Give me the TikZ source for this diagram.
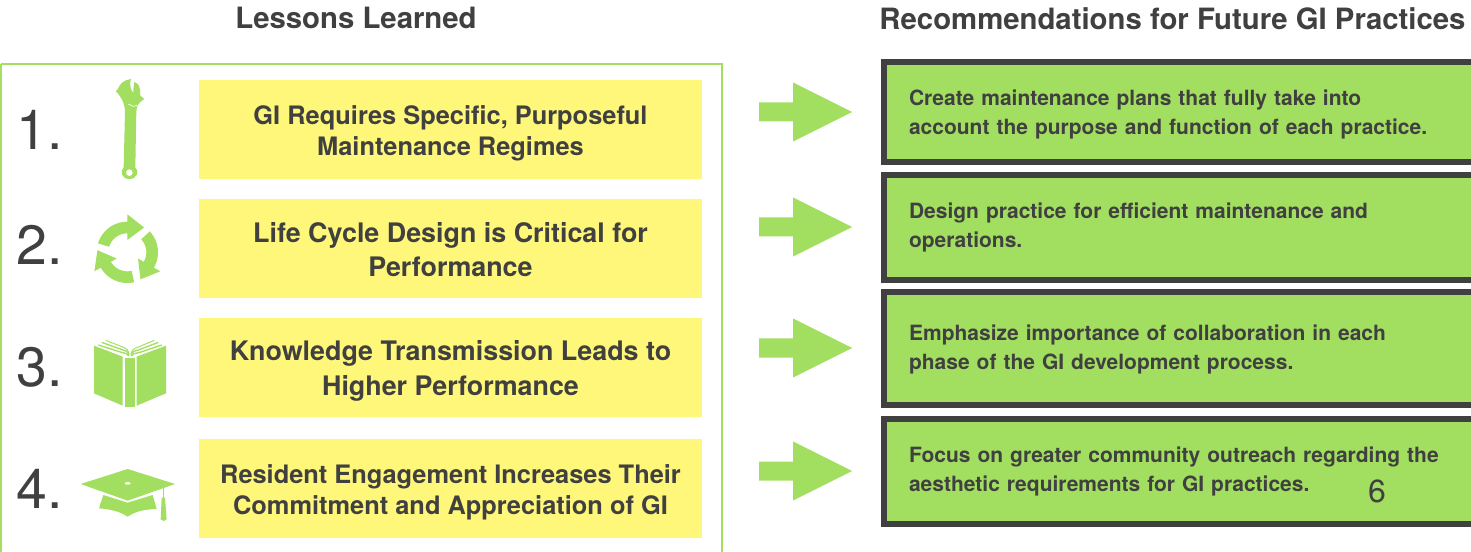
\documentclass[tikz,border=0pt]{standalone}
\usepackage{fontspec}
\setmainfont{TeX Gyre Heros}
\definecolor{lgreen}{HTML}{A2DE60}
\definecolor{lyellow}{HTML}{FFF77A}
\definecolor{dgray}{HTML}{404040}
\newcommand{\blockarrow}[2]{%
  \fill[lgreen] (#1,#2) ++(0,-9.5) -- ++(34,0) -- ++(0,-20) -- ++(59,29.5) -- ++(-59,29.5) -- ++(0,-20) -- ++(-34,0) -- cycle;}
\newcommand{\nudge}[1]{\rule{0pt}{#1}}
\tikzset{
  x=0.75pt,y=-0.75pt,
  lesson/.style={fill=lyellow,minimum width={503*0.75pt},minimum height={99*0.75pt},inner sep=0pt,align=center,text=dgray,font=\bfseries\fontsize{19.05}{23}\selectfont},
  lessonbig/.style={lesson,font=\bfseries\fontsize{20.15}{23}\selectfont},
  recbox/.style={draw=dgray,line width=4.5pt,fill=lgreen,minimum width={590*0.75pt},text width={540*0.75pt},inner xsep={23*0.75pt},inner ysep=0pt,align=left,text=dgray,font=\bfseries\fontsize{15.75}{22}\selectfont},
  numlabel/.style={text=dgray,font=\fontsize{41.5}{42}\selectfont,inner sep=0pt},
  heading/.style={text=dgray,font=\bfseries\fontsize{22}{24}\selectfont,inner sep=0pt},
  zoomA/.style={shift={(0,60)},x=0.25pt,y=-0.25pt},
  zoomB/.style={shift={(0,310)},x=0.25pt,y=-0.25pt},
  zoomC/.style={shift={(85,330)},x=0.25pt,y=-0.25pt},
}
\begin{document}
\begin{tikzpicture}
\useasboundingbox (0,0) rectangle (1471,552);
\clip (0,0) rectangle (1471,552);
\fill[white] (0,0) rectangle (1471,552);
% frame
\draw[lgreen,line width=1.6pt] (1,64) -- (722,64) -- (722,570) (1,64) -- (1,570);
% headings
\node[heading] (h1) at (356,18) {Lessons Learned};
\node[heading] (h2) at (1172.5,19) {Recommendations for Future GI Practices};
% numbers
\node[numlabel] (n1) at (39.5,130) {1.};
\node[numlabel] (n2) at (39.5,245) {2.};
\node[numlabel] (n3) at (39.5,367) {3.};
\node[numlabel] (n4) at (39.5,489) {4.};
% lessons
\node[lesson] (l1) at (450.5,129.5) {\nudge{20pt}GI Requires Specific, Purposeful\\[0.5pt]Maintenance Regimes};
\node[lessonbig] (l2) at (450.5,248.5) {\nudge{17pt}Life Cycle Design is Critical for\\[2.5pt]Performance};
\node[lessonbig] (l3) at (450.5,367.5) {\nudge{20.5pt}Knowledge Transmission Leads to\\[3pt]Higher Performance};
\node[lesson] (l4) at (450.5,488.5) {\nudge{20pt}Resident Engagement Increases Their\\Commitment and Appreciation of GI};
% recommendations
\node[recbox,minimum height={100*0.75pt}] (r1) at (1179,112) {\nudge{15.25pt}Create maintenance plans that fully take into\\account the purpose and function of each practice.};
\node[recbox,minimum height={105*0.75pt}] (r2) at (1179,227.5) {Design practice for efficient maintenance and\\operations.};
\node[recbox,minimum height={113*0.75pt}] (r3) at (1179,348.5) {\nudge{13pt}Emphasize importance of collaboration in each\\phase of the GI development process.};
\node[recbox,minimum height={105*0.75pt}] (r4) at (1179,471.5) {Focus on greater community outreach regarding the\\aesthetic requirements for GI practices.};
\node[text=dgray,font=\fontsize{24}{24}\selectfont,inner sep=0pt] (pg) at (1377,491) {6};
% arrows
\blockarrow{759}{112}
\blockarrow{759}{227}
\blockarrow{759}{348}
\blockarrow{759}{471}
% wrench
\begin{scope}[zoomA]
\fill[lgreen,even odd rule] (347,95) -- (353,88) .. controls (360,70) and (372,60) .. (393,57)
  .. controls (388,70) and (390,88) .. (400,99) .. controls (400,85) and (401,75) .. (403,66)
  .. controls (412,68) and (418,74) .. (420,90) -- (421,107) -- (433,117)
  .. controls (420,125) and (409,135) .. (409,155) -- (406,322)
  .. controls (420,335) and (410,357) .. (388,357) .. controls (366,357) and (358,335) .. (371,322)
  -- (375,155) .. controls (375,130) and (362,110) .. (352,98) -- cycle
  (388,338) circle[radius=2.6pt];
\draw[white,line width=0.5pt] (385,132) -- (400,139) -- (412,136);
\end{scope}
% cycle
\begin{scope}[zoomA,shift={(382,577)}]
\foreach \k in {0,120,240}{
  \fill[lgreen] plot[domain=197:272,samples=16] ({92*cos(\x+\k)},{92*sin(\x+\k)})
    -- plot[domain=272:197,samples=16] ({57*cos(\x+\k)},{57*sin(\x+\k)}) -- cycle;
  \fill[lgreen] ({114*cos(270+\k)},{114*sin(270+\k)}) -- ({90*cos(304+\k)},{90*sin(304+\k)}) -- ({37*cos(270+\k)},{37*sin(270+\k)}) -- cycle;
}
\end{scope}
% book
\begin{scope}[zoomC]
\fill[lgreen] (27,47) -- (113,80) -- (113,227) -- (27,190) -- cycle;
\fill[lgreen] (120,84) -- (150,84) -- (150,232) -- (120,232) -- cycle;
\fill[lgreen] (155,80) -- (243,47) -- (243,190) -- (155,227) -- cycle;
\draw[lgreen,line width=1pt] (40,45) -- (112,68) .. controls (124,70) and (129,72) .. (131,78);
\draw[lgreen,line width=1pt] (50,37) -- (114,60) .. controls (124,62) and (130,66) .. (132,76);
\draw[lgreen,line width=.7pt] (62,31) -- (116,52) .. controls (124,55) and (130,60) .. (132,72);
\draw[lgreen,line width=1pt] (230,45) -- (162,68) .. controls (148,70) and (141,72) .. (139,78);
\draw[lgreen,line width=1pt] (220,37) -- (160,60) .. controls (148,62) and (140,66) .. (138,76);
\draw[lgreen,line width=.7pt] (208,31) -- (158,52) .. controls (148,55) and (140,60) .. (138,72);
\end{scope}
% cap
\begin{scope}[zoomB]
\fill[lgreen] (242,522) -- (383,477) -- (525,522) -- (383,572) -- cycle;
\fill[white] (383,520) ellipse[x radius=2.2pt,y radius=1pt];
\fill[lgreen] (310,555) -- (383,578) -- (458,555) -- (470,597) .. controls (430,598) and (405,605) .. (383,620) .. controls (360,605) and (335,598) .. (297,595) -- cycle;
\draw[lgreen,line width=.7pt] (490,532) -- (490,570);
\fill[lgreen] (485,563) -- (495,563) -- (500,628) -- (491,633) -- (482,628) -- cycle;
\end{scope}
\end{tikzpicture}
\end{document}
